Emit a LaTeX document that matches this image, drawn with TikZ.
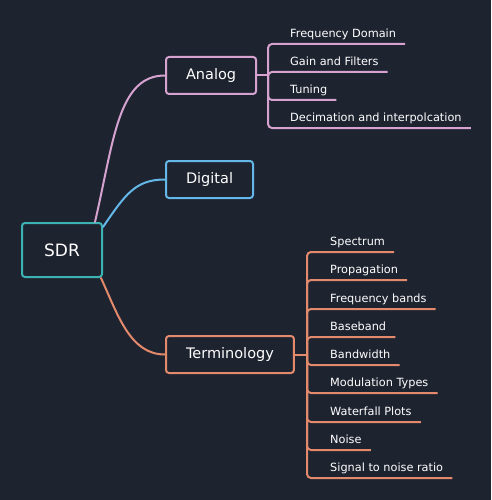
\documentclass[tikz,border=0pt]{standalone}
\usepackage{fontspec}
\setmainfont{DejaVu Sans}
\usepackage{xcolor}
\usepackage{tikz}
\definecolor{bgdark}{HTML}{1E2330}
\definecolor{sdrteal}{HTML}{3CB2B2}
\definecolor{analogpink}{HTML}{D6A2CF}
\definecolor{digiblue}{HTML}{63B8E8}
\definecolor{termorange}{HTML}{E48A6C}

\begin{document}
\begin{tikzpicture}[x=1pt, y=-1pt,
  root/.style={draw=sdrteal, line width=2pt, rounded corners=3pt, fill=bgdark,
    minimum width=80pt, minimum height=54pt, text=white, font=\fontsize{17}{20}\selectfont},
  topic/.style={line width=2pt, rounded corners=3pt, fill=bgdark, anchor=west,
    inner xsep=20pt, minimum height=37pt, text=white, font=\fontsize{14.5}{17}\selectfont},
  leaf/.style={anchor=south west, inner xsep=9pt, inner ysep=3.5pt,
    text height=8.5pt, text depth=2.5pt, text=white, font=\fontsize{11.3}{13}\selectfont},
  branch/.style={line width=2pt, line cap=round},
  twig/.style={line width=2pt, rounded corners=4pt}
]
  \fill[bgdark] (0,0) rectangle (491,500);
  \useasboundingbox (0,0) rectangle (491,500);

  \node[root] (sdr) at (62,250) {SDR};
  \node[topic, draw=analogpink] (analog) at (165,75.5) {Analog};
  \node[topic, draw=digiblue] (digital) at (165,179.5) {Digital};
  \node[topic, draw=termorange] (terms) at (165,354.5) {Terminology};

  \draw[branch, analogpink] ([xshift=-8pt]sdr.north east) .. controls (114,140) and (118,75.5) .. (analog.west);
  \draw[branch, digiblue] ([yshift=-5pt]sdr.north east) .. controls (125,195) and (135,179.5) .. (digital.west);
  \draw[branch, termorange] ([xshift=-2pt]sdr.south east) .. controls (118,315) and (130,354.5) .. (terms.west);

  % analog leaves
  \coordinate (ja) at (268,75.5);
  \node[leaf] (fdom)   at (281,44)  {Frequency Domain};
  \node[leaf] (gain)   at (281,72)  {Gain and Filters};
  \node[leaf] (tuning) at (281,100) {Tuning};
  \node[leaf] (decim)  at (281,128) {Decimation and interpolcation};
  \draw[branch, analogpink] (analog.east) -- (ja);
  \draw[twig, analogpink] (ja) |- (fdom.south east);
  \draw[twig, analogpink] (ja) |- (gain.south east);
  \draw[twig, analogpink] (ja) |- (tuning.south east);
  \draw[twig, analogpink] (ja) |- (decim.south east);

  % terminology leaves
  \coordinate (jt) at (307,354.5);
  \node[leaf] (spec)   at (321,252) {Spectrum};
  \node[leaf] (prop)   at (321,280) {Propagation};
  \node[leaf] (fbands) at (321,309) {Frequency bands};
  \node[leaf] (baseb)  at (321,337) {Baseband};
  \node[leaf] (bandw)  at (321,365) {Bandwidth};
  \node[leaf] (modt)   at (321,393) {Modulation Types};
  \node[leaf] (wfall)  at (321,422) {Waterfall Plots};
  \node[leaf] (noise)  at (321,450) {Noise};
  \node[leaf] (snr)    at (321,478) {Signal to noise ratio};
  \draw[branch, termorange] (terms.east) -- (jt);
  \draw[twig, termorange] (jt) |- (spec.south east);
  \draw[twig, termorange] (jt) |- (prop.south east);
  \draw[twig, termorange] (jt) |- (fbands.south east);
  \draw[twig, termorange] (jt) |- (baseb.south east);
  \draw[twig, termorange] (jt) |- (bandw.south east);
  \draw[twig, termorange] (jt) |- (modt.south east);
  \draw[twig, termorange] (jt) |- (wfall.south east);
  \draw[twig, termorange] (jt) |- (noise.south east);
  \draw[twig, termorange] (jt) |- (snr.south east);
\end{tikzpicture}
\end{document}
